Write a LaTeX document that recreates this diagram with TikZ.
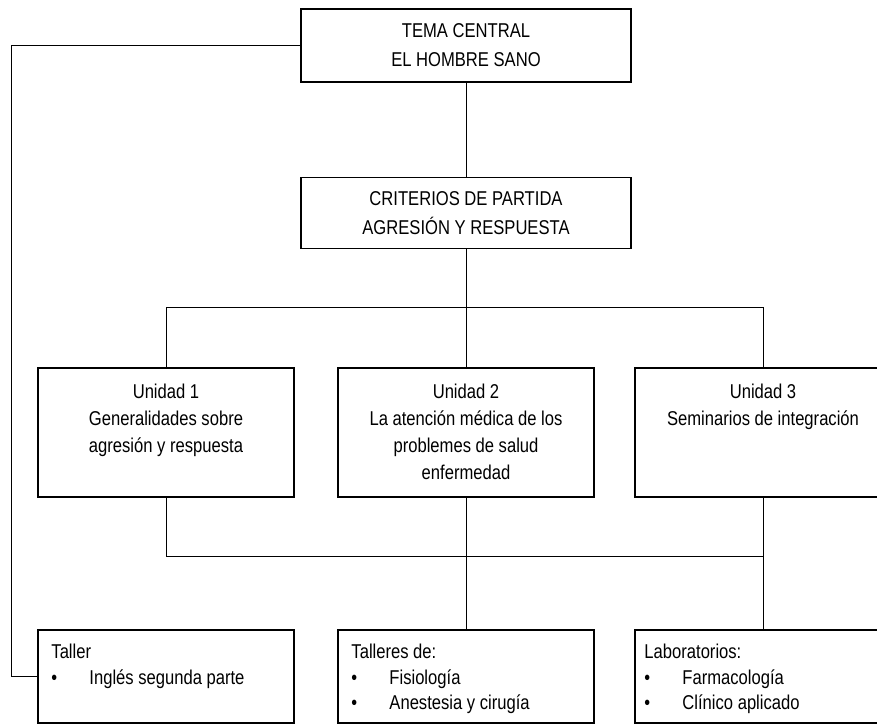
\documentclass[tikz,border=0pt]{standalone}
\usepackage{fontspec}
\setmainfont{Liberation Sans}[FakeStretch=0.83]
\usetikzlibrary{positioning}

\newcommand{\punto}{\makebox[38pt][l]{\textbullet}}

\tikzset{
	caja/.style={draw, line width=1.5pt, minimum width=256pt, inner sep=0pt},
	titulo/.style={align=center, font=\fontsize{20}{29}\selectfont},
	texto/.style={align=center, inner sep=0pt, anchor=north, font=\fontsize{20}{27}\selectfont},
	lista/.style={align=left, inner sep=0pt, anchor=north west, font=\fontsize{20}{25.5}\selectfont},
	linea/.style={line width=1pt}
}

\begin{document}
\begin{tikzpicture}[x=1pt, y=-1pt]
		\useasboundingbox (0,0) rectangle (877,724);
		
		% cabecera
		\node[caja, titulo, minimum width=330pt, minimum height=73pt] (tema) at (466,45.5) {TEMA CENTRAL\\EL HOMBRE SANO};
		\node[caja, titulo, minimum width=330pt, minimum height=71pt] (crit) at (466,213) {CRITERIOS DE PARTIDA\\AGRESIÓN Y RESPUESTA};
		
		% unidades y talleres
		\foreach \n/\cx in {1/166, 2/466, 3/763}{
			\node[caja, minimum height=129pt] (U-\n) at (\cx,432.5) {};
			\node[caja, minimum height=93pt] (T-\n) at (\cx,676.5) {};
		}
		
		\node[texto] (U-1-txt) at ([yshift=-17pt]U-1.north) {Unidad 1\\Generalidades sobre\\agresión y respuesta};
		\node[texto] (U-2-txt) at ([yshift=-17pt]U-2.north) {Unidad 2\\La atención médica de los\\problemes de salud\\enfermedad};
		\node[texto] (U-3-txt) at ([yshift=-17pt]U-3.north) {Unidad 3\\Seminarios de integración};
		
		\node[lista] (T-1-txt) at ([xshift=14pt,yshift=-15pt]T-1.north west) {Taller\\\punto Inglés segunda parte};
		\node[lista] (T-2-txt) at ([xshift=14pt,yshift=-15pt]T-2.north west) {Talleres de:\\\punto Fisiología\\\punto Anestesia y cirugía};
		\node[lista] (T-3-txt) at ([xshift=10pt,yshift=-15pt]T-3.north west) {Laboratorios:\\\punto Farmacología\\\punto Clínico aplicado};
		
		% conexiones
		\coordinate (bus-1) at (466,307);
		\coordinate (bus-2) at (466,556);
		\coordinate (izq) at (11,45.5);
		
		\draw[linea] (tema.south) -- (crit.north);
		\draw[linea] (crit.south) -- (U-2.north);
		\draw[linea] (U-1.north) |- (bus-1) -| (U-3.north);
		\draw[linea] (U-1.south) |- (bus-2) -| (U-3.south);
		\draw[linea] (U-2.south) -- (T-2.north);
		\draw[linea] (U-3.south) -- (T-3.north);
		\draw[linea] (tema.west) -- (izq) |- (T-1.west);
\end{tikzpicture}
\end{document}
